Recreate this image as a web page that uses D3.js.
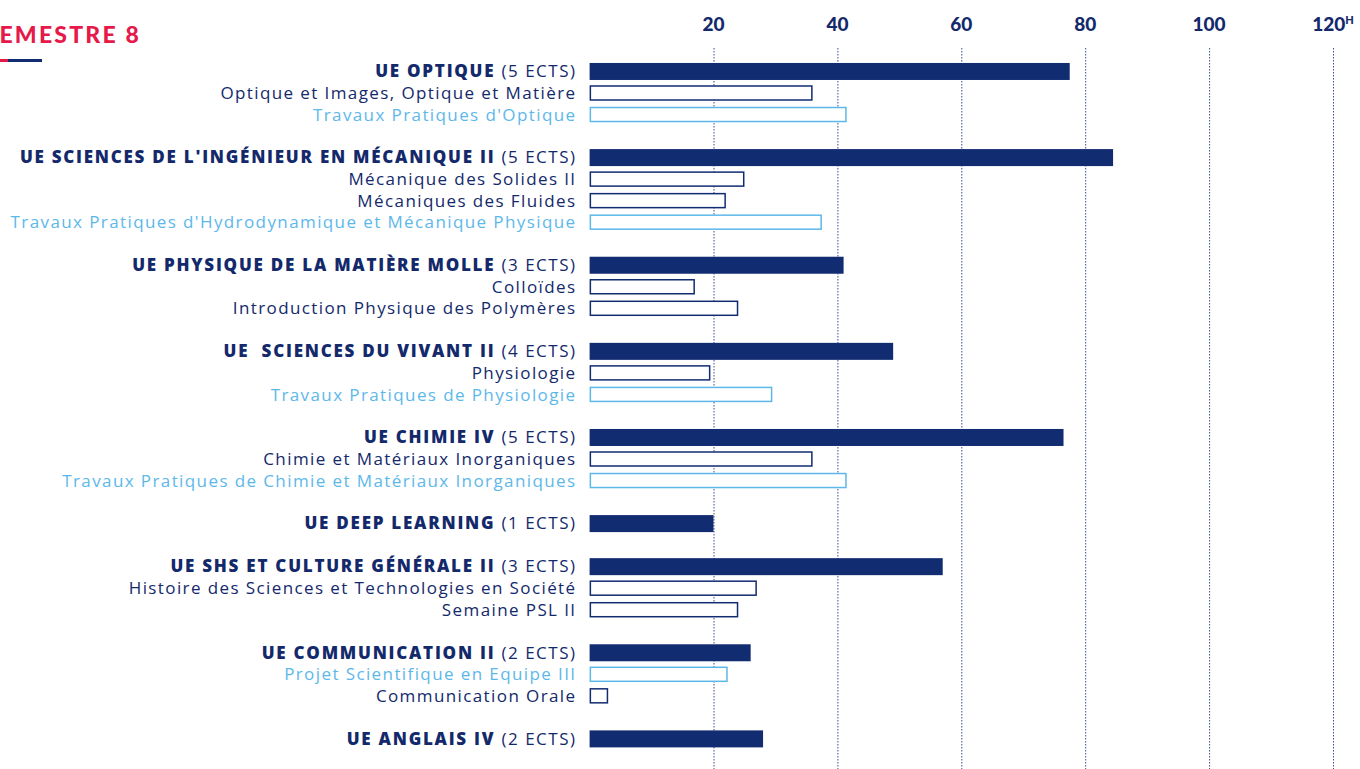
<!DOCTYPE html>
<html>
<head>
<meta charset="utf-8">
<script src="https://cdn.jsdelivr.net/npm/d3@7"></script>
<style>
  body { margin: 0; background: #fff; }
  svg text { font-family: "Open Sans", Lato, sans-serif; white-space: pre; }
  .tick-label { font-family: Lato, sans-serif; font-weight: 900; font-size: 19px; fill: #13296b; }
  .ue { font-weight: 800; font-size: 17px; letter-spacing: 1.75px; fill: #13296b; }
  .ects { font-weight: 400; font-size: 17px; letter-spacing: 1.5px; fill: #13296b; }
  .course { font-weight: 400; font-size: 17px; letter-spacing: 1.4px; fill: #13296b; }
  .course.tp { fill: #5db8ea; }
  .grid { stroke: #3a4c8c; stroke-width: 1; stroke-dasharray: 1.5,1.5; }
</style>
</head>
<body>
<div id="chart"></div>
<script>
// chart size
let width = 1360,
    height = 769,
    labelX = 575;

let NAVY = "#122c72",
    LIGHT = "#5db8ea",
    RED = "#e5194a";

// UE (teaching units)
const ueNames = ["UE OPTIQUE", "UE SCIENCES DE L'INGÉNIEUR EN MÉCANIQUE II", "UE PHYSIQUE DE LA MATIÈRE MOLLE",
    "UE  SCIENCES DU VIVANT II", "UE CHIMIE IV", "UE DEEP LEARNING", "UE SHS ET CULTURE GÉNÉRALE II",
    "UE COMMUNICATION II", "UE ANGLAIS IV"];
const ueEcts = [5, 5, 3, 4, 5, 1, 3, 2, 2];
const ueHours = [77.5, 84.5, 41, 49, 76.5, 20, 57, 26, 28];

// courses inside each UE
const courseNames = [
    ["Optique et Images, Optique et Matière", "Travaux Pratiques d'Optique"],
    ["Mécanique des Solides II", "Mécaniques des Fluides", "Travaux Pratiques d'Hydrodynamique et Mécanique Physique"],
    ["Colloïdes", "Introduction Physique des Polymères"],
    ["Physiologie", "Travaux Pratiques de Physiologie"],
    ["Chimie et Matériaux Inorganiques", "Travaux Pratiques de Chimie et Matériaux Inorganiques"],
    [],
    ["Histoire des Sciences et Technologies en Société", "Semaine PSL II"],
    ["Projet Scientifique en Equipe III", "Communication Orale"],
    []
];
const courseHours = [
    [36, 41.5],
    [25, 22, 37.5],
    [17, 24],
    [19.5, 29.5],
    [36, 41.5],
    [],
    [27, 24],
    [22.3, 3],
    []
];
// true = practical work (light blue)
const coursePractical = [
    [false, true],
    [false, false, true],
    [false, false],
    [false, true],
    [false, true],
    [],
    [false, false],
    [true, false],
    []
];

const tickValues = [20, 40, 60, 80, 100, 120];

// flatten into rows, with an empty row between groups
let rows = [];
ueNames.forEach(function (name, i) {
    if (i > 0) rows.push({kind: "blank"});
    rows.push({kind: "ue", name: name, ects: ueEcts[i], hours: ueHours[i]});
    courseNames[i].forEach(function (c, j) {
        rows.push({kind: coursePractical[i][j] ? "tp" : "course", name: c, hours: courseHours[i][j]});
    });
});

let x = d3.scaleLinear().domain([0, 120]).range([589.6, 1333]);
let y = d3.scaleBand().domain(d3.range(rows.length)).range([60.7, 60.7 + rows.length * 21.53]);

let svg = d3.select("#chart").append("svg")
    .attr("width", width)
    .attr("height", height);

// title (first letter falls outside the page)
svg.append("text")
    .attr("x", 141)
    .attr("y", 43)
    .attr("text-anchor", "end")
    .style("font-family", "Lato, sans-serif")
    .style("font-weight", 900)
    .style("font-size", "23px")
    .style("letter-spacing", "2.2px")
    .style("fill", RED)
    .text("SEMESTRE 8");
svg.append("rect").attr("x", 0).attr("y", 59).attr("width", 8).attr("height", 3).attr("fill", RED);
svg.append("rect").attr("x", 8).attr("y", 59).attr("width", 34).attr("height", 3).attr("fill", NAVY);

// grid lines
svg.append("g").selectAll("line")
    .data(tickValues)
    .enter().append("line")
    .attr("class", "grid")
    .attr("x1", (d) => x(d) + 0.5)
    .attr("x2", (d) => x(d) + 0.5)
    .attr("y1", 48)
    .attr("y2", height);

// top axis labels
let ticks = svg.append("g").selectAll("text")
    .data(tickValues)
    .enter().append("text")
    .attr("class", "tick-label")
    .attr("x", (d) => x(d))
    .attr("y", 31)
    .attr("text-anchor", "middle");
ticks.append("tspan").text((d) => d);
ticks.filter((d) => d === 120).append("tspan")
    .attr("dy", -7)
    .style("font-size", "11px")
    .text("H");

let cy = (i) => y(i) + y.bandwidth() / 2;

// bars
let data = rows.map((d, i) => Object.assign({i: i}, d)).filter((d) => d.kind !== "blank");

svg.append("g").selectAll("rect")
    .data(data.filter((d) => d.kind === "ue"))
    .enter().append("rect")
    .attr("x", x(0))
    .attr("y", (d) => cy(d.i) - 8.5)
    .attr("width", (d) => x(d.hours) - x(0))
    .attr("height", 17)
    .attr("fill", NAVY);

svg.append("g").selectAll("rect")
    .data(data.filter((d) => d.kind !== "ue"))
    .enter().append("rect")
    .attr("x", x(0) + 0.75)
    .attr("y", (d) => cy(d.i) - 7)
    .attr("width", (d) => x(d.hours) - x(0) - 1.5)
    .attr("height", 14)
    .attr("fill", "#fff")
    .attr("stroke", (d) => d.kind === "tp" ? LIGHT : NAVY)
    .attr("stroke-width", 1.5);

// labels (trailing letter-spacing pushed back)
let labels = svg.append("g").selectAll("text")
    .data(data)
    .enter().append("text")
    .attr("x", labelX + 1.5)
    .attr("y", (d) => cy(d.i))
    .attr("dy", "0.36em")
    .attr("text-anchor", "end")
    .attr("class", (d) => d.kind === "ue" ? "" : (d.kind === "tp" ? "course tp" : "course"));

labels.filter((d) => d.kind === "ue").each(function (d) {
    let t = d3.select(this);
    t.append("tspan").attr("class", "ue").text(d.name + " ");
    t.append("tspan").attr("class", "ects").text("(" + d.ects + " ECTS)");
});
labels.filter((d) => d.kind !== "ue").text((d) => d.name);
</script>
</body>
</html>
